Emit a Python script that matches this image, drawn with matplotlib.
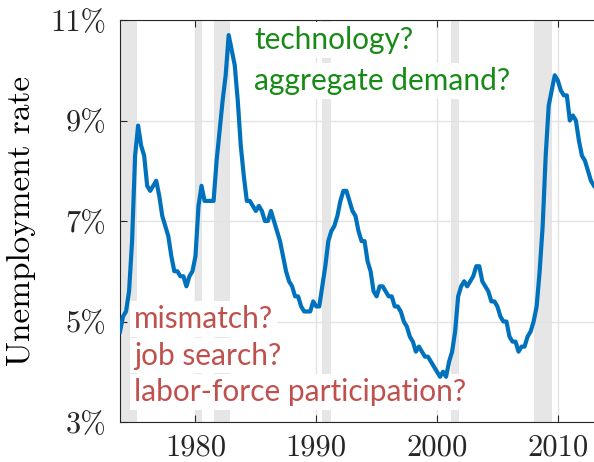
import matplotlib

matplotlib.use("Agg")
import matplotlib.pyplot as plt  # noqa: E402
import numpy as np  # noqa: E402

# quarterly US unemployment rate (%), first point 1973Q4
start_year = 1973.75
unemployment = [
    4.8,
    5.1, 5.2, 5.6, 6.6,
    8.3, 8.9, 8.5, 8.3,
    7.7, 7.6, 7.7, 7.8,
    7.5, 7.1, 6.9, 6.7,
    6.3, 6.0, 6.0, 5.9,
    5.9, 5.7, 5.9, 6.0,
    6.3, 7.3, 7.7, 7.4,
    7.4, 7.4, 7.4, 8.2,
    8.8, 9.4, 9.9, 10.7,
    10.4, 10.1, 9.4, 8.5,
    7.9, 7.4, 7.4, 7.3,
    7.2, 7.3, 7.2, 7.0,
    7.0, 7.2, 7.0, 6.8,
    6.6, 6.3, 6.0, 5.8,
    5.7, 5.5, 5.5, 5.3,
    5.2, 5.2, 5.2, 5.4,
    5.3, 5.3, 5.7, 6.1,
    6.6, 6.8, 6.9, 7.1,
    7.4, 7.6, 7.6, 7.4,
    7.2, 7.1, 6.8, 6.6,
    6.6, 6.2, 6.0, 5.6,
    5.5, 5.7, 5.7, 5.6,
    5.5, 5.5, 5.3, 5.3,
    5.2, 5.0, 4.9, 4.7,
    4.6, 4.4, 4.5, 4.4,
    4.3, 4.3, 4.2, 4.1,
    4.0, 3.9, 4.0, 3.9,
    4.2, 4.4, 4.8, 5.5,
    5.7, 5.8, 5.7, 5.8,
    5.9, 6.1, 6.1, 5.8,
    5.7, 5.6, 5.4, 5.4,
    5.3, 5.1, 5.0, 5.0,
    4.7, 4.6, 4.6, 4.4,
    4.5, 4.5, 4.7, 4.8,
    5.0, 5.3, 6.0, 6.9,
    8.3, 9.3, 9.6, 9.9,
    9.8, 9.6, 9.5, 9.5,
    9.0, 9.1, 9.0, 8.6,
    8.3, 8.2, 8.0, 7.8,
    7.7,
]

# NBER recessions (start, end) in decimal years
recessions = [
    (1973.83, 1975.17),
    (1980.0, 1980.5),
    (1981.5, 1982.83),
    (1990.5, 1991.2),
    (2001.17, 2001.83),
    (2008.0, 2009.5),
]

yticks = [3, 5, 7, 9, 11]
xticks = [1980, 1990, 2000, 2010]
green_notes = ["technology?", "aggregate demand?"]
red_notes = ["mismatch?", "job search?", "labor-force participation?"]

years = start_year + 0.25 * np.arange(len(unemployment))

fig = plt.figure(figsize=(5.94, 4.62), dpi=100)
ax = fig.add_axes([120 / 594, 40 / 462, 474 / 594, 402 / 462])

for a, b in recessions:
    ax.axvspan(a, b, color="#e6e6e6", lw=0, zorder=0.5)

ax.plot(years, unemployment, color="#0072bd", lw=3.0, zorder=4,
        solid_joinstyle="round")

ax.set_xlim(1973.75, 2013.0)
ax.set_ylim(3, 11)
ax.set_xticks(xticks)
ax.set_yticks(yticks)
serif = "cmr10"
ax.set_xticklabels([str(x) for x in xticks], family=serif, fontsize=22)
ax.set_yticklabels([f"{y}%" for y in yticks], family=serif, fontsize=22)
ax.set_ylabel("Unemployment rate", family=serif, fontsize=24, labelpad=10)
ax.grid(True, color="#e2e2e2", lw=1.0, zorder=1)
ax.set_axisbelow(True)
ax.tick_params(direction="in", length=5, width=0.8, color="#262626",
               top=True, right=False, labelcolor="#262626")
ax.tick_params(axis="x", pad=9)
ax.tick_params(axis="y", pad=10)
for side in ["left", "bottom", "top"]:
    ax.spines[side].set_color("#262626")
    ax.spines[side].set_linewidth(0.8)
ax.spines["right"].set_visible(False)

box = dict(facecolor="white", edgecolor="none", boxstyle="square,pad=0.12")
px_x = lambda px: (px - 120) / 474
px_y = lambda px: (422 - px) / 402
for i, note in enumerate(green_notes):
    ax.text(px_x(254), px_y(49 + 41 * i), note, transform=ax.transAxes,
            family="Lato", fontsize=21.5, color="#178a17", va="baseline",
            bbox=box, zorder=3)
for i, note in enumerate(red_notes):
    ax.text(px_x(134), px_y(328 + 36.5 * i), note, transform=ax.transAxes,
            family="Lato", fontsize=21.5, color="#c0504d", va="baseline",
            bbox=box, zorder=3)

fig.savefig("out.png", dpi=100)
